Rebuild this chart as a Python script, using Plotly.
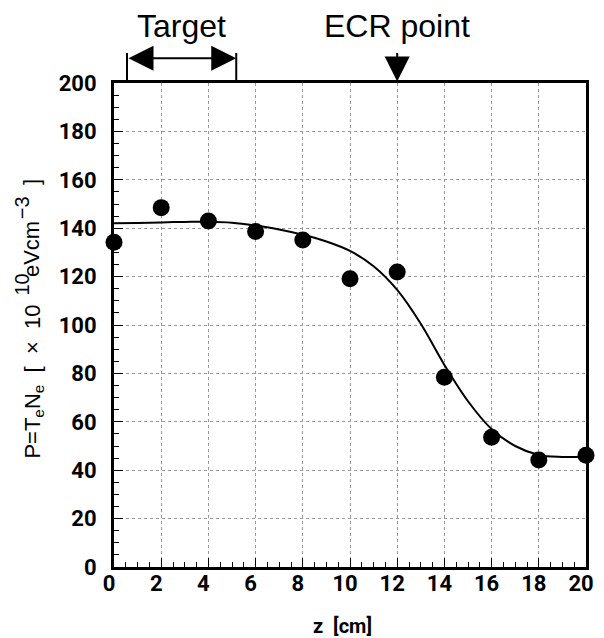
import plotly.graph_objects as go

# Measured electron pressure along the axis
z_cm = [0, 2, 4, 6, 8, 10, 12, 14, 16, 18, 20]
pressure = [134.2, 148.5, 143.0, 138.6, 135.1, 119.1, 121.9, 78.4, 53.6, 44.2, 46.2]

# Fitted profile
fit_z = [0, 1, 2, 3, 4, 5, 6, 7, 8, 9, 10, 11, 12, 13, 14, 15, 16, 17, 18, 19, 20]
fit_p = [142.0, 142.2, 142.4, 142.6, 142.7, 142.3, 141.1, 139.5, 137.3, 134.5,
         130.6, 124.3, 114.5, 100.5, 83.5, 68.5, 57.0, 50.0, 46.3, 45.5, 45.5]

x_ticks = [0, 2, 4, 6, 8, 10, 12, 14, 16, 18, 20]
y_ticks = [0, 20, 40, 60, 80, 100, 120, 140, 160, 180, 200]

# Target region and ECR position (cm)
target_start, target_end = 0.55, 5.18
ecr_z = 12.0

tick_font = dict(family="Roboto, DejaVu Sans Condensed, sans-serif",
                 size=22, color="black", weight="bold")
text_font = "Liberation Sans, Arial, sans-serif"

fig = go.Figure()
fig.add_trace(go.Scatter(x=fit_z, y=fit_p, mode="lines",
                         line=dict(color="black", width=2, shape="spline", smoothing=1.0),
                         hoverinfo="skip"))
fig.add_trace(go.Scatter(x=z_cm, y=pressure, mode="markers",
                         marker=dict(size=17, color="black"), cliponaxis=False))

axis_common = dict(
    ticks="inside", ticklen=9, tickwidth=1, tickcolor="black",
    showline=True, linewidth=3, linecolor="black", mirror=True,
    showgrid=True, gridcolor="#9a9a9a", griddash="dot", gridwidth=1,
    zeroline=False, tickfont=tick_font,
)

fig.update_layout(
    width=604, height=638,
    margin=dict(l=114, r=10, t=83, b=71),
    paper_bgcolor="white", plot_bgcolor="white",
    showlegend=False,
    xaxis=dict(range=[0, 20], tickvals=x_ticks, ticklabelshift=-5, ticklabelstandoff=-5,
               minor=dict(ticks="inside", ticklen=5, dtick=0.5, tickcolor="black", showgrid=False),
               **axis_common),
    yaxis=dict(range=[0, 200], tickvals=y_ticks, ticklabelstandoff=10,
               minor=dict(ticks="inside", ticklen=5, dtick=5, tickcolor="black", showgrid=False),
               **axis_common),
)

# vertical axis title, set piece by piece so the exponents keep full size
title_pieces = [
    # (text, font size, left edge in paper x, top end in paper y)
    ("P=T<sub>e</sub>N<sub>e</sub>  [  ×  10", 22, -0.200, 0.5413),
    ("10", 20, -0.219, 0.6054),
    ("eVcm", 22, -0.200, 0.7149),
    ("−3", 20, -0.219, 0.7665),
    ("]", 22, -0.200, 0.8017),
]

annotations = []
for txt, fs, px, py in title_pieces:
    annotations.append(dict(text=txt, xref="paper", yref="paper", x=px, y=py,
                            xanchor="left", yanchor="top", showarrow=False, textangle=-90,
                            borderpad=0, borderwidth=0,
                            font=dict(family=text_font, size=fs, color="black")))

annotations += [
    dict(text="z  [cm]", xref="paper", yref="paper", x=0.484, y=-0.122,
         xanchor="center", yanchor="middle", showarrow=False,
         font=dict(family="Roboto, DejaVu Sans Condensed, sans-serif",
                   size=20, color="black", weight="bold")),
    # labels above the frame
    dict(text="Target", xref="x", yref="paper", x=(target_start + target_end) / 2, y=1.118,
         xanchor="center", yanchor="middle", showarrow=False,
         font=dict(family=text_font, size=32, color="black")),
    dict(text="ECR point", xref="x", yref="paper", x=ecr_z, y=1.118,
         xanchor="center", yanchor="middle", showarrow=False,
         font=dict(family=text_font, size=32, color="black")),
    # target double arrow
    dict(text="", xref="x", yref="paper", x=target_end, y=1.051,
         axref="x", ayref="pixel", ax=target_start, ay=0,
         showarrow=True, arrowhead=2, startarrowhead=2, arrowside="end+start",
         arrowsize=2.5, startarrowsize=2.5, arrowwidth=2, arrowcolor="black"),
    # ECR arrow
    dict(text="", xref="x", yref="paper", x=ecr_z, y=1.003,
         axref="pixel", ayref="pixel", ax=0, ay=-30,
         showarrow=True, arrowhead=2, arrowsize=2.5, arrowwidth=2, arrowcolor="black"),
]
fig.update_layout(annotations=annotations)

# end bars of the target span
for zb in (target_start, target_end):
    fig.add_shape(type="line", xref="x", yref="paper", x0=zb, x1=zb, y0=1.003, y1=1.062,
                  line=dict(color="black", width=2))

fig.write_html("out.html")
